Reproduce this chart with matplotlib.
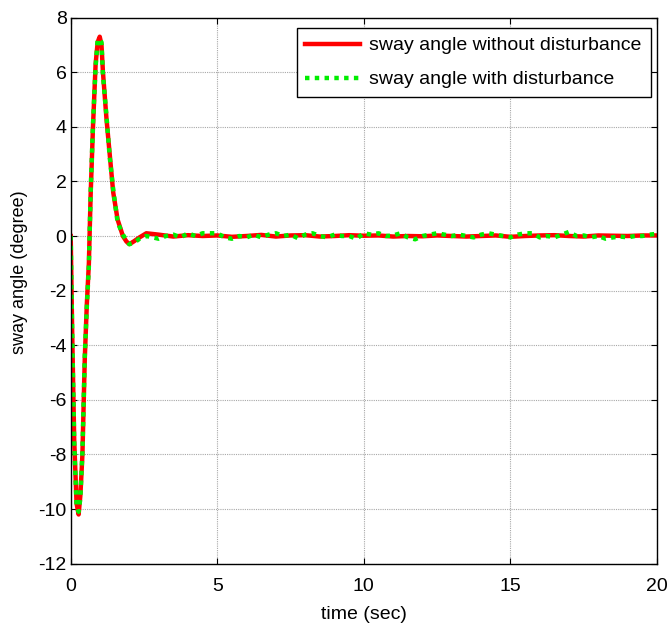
import numpy as np
import matplotlib.pyplot as plt

plt.rcParams['font.family'] = ['Liberation Sans', 'DejaVu Sans']
plt.rcParams['axes.unicode_minus'] = False

# sway angle without disturbance (key points)
t_clean = [0, 0.05, 0.12, 0.2, 0.27, 0.33, 0.4, 0.48, 0.55, 0.62, 0.68, 0.76, 0.85,
           0.92, 0.99, 1.05, 1.1, 1.22, 1.33, 1.45, 1.6, 1.78, 1.9, 2.0, 2.15,
           2.35, 2.58, 3.0, 3.5, 4.0, 4.5, 5.0, 5.5, 6.0, 6.5, 7.0, 7.5, 8.0,
           8.5, 9.0, 9.5, 10.0, 10.5, 11.0, 11.5, 12.0, 12.5, 13.0, 13.5, 14.0,
           14.5, 15.0, 15.5, 16.0, 16.5, 17.0, 17.5, 18.0, 18.5, 19.0, 19.5, 20.0]
y_clean = [0, -3.5, -7.5, -9.8, -10.2, -9.5, -8.0, -4.5, -2.5, -1.0, 1.5, 4.0, 6.3,
           7.1, 7.3, 7.0, 6.0, 4.3, 3.0, 1.6, 0.6, 0.0, -0.2, -0.3, -0.2,
           -0.05, 0.1, 0.05, -0.02, 0.03, 0.0, 0.02, -0.03, 0.0, 0.04, -0.02, 0.02, 0.03,
           -0.02, 0.0, 0.03, 0.01, 0.02, -0.02, 0.0, -0.01, 0.02, 0.0, -0.02, 0.0,
           0.02, -0.03, 0.0, 0.02, 0.03, 0.0, -0.02, 0.02, 0.01, 0.0, 0.02, 0.02]

# sway angle with disturbance
t_dist = [0, 0.05, 0.12, 0.2, 0.27, 0.33, 0.4, 0.48, 0.55, 0.62, 0.68, 0.76, 0.85,
          0.92, 0.99, 1.05, 1.1, 1.22, 1.33, 1.45, 1.6, 1.78, 1.9, 2.0, 2.15,
          2.35, 2.58, 2.8, 3.0, 3.25, 3.5, 3.75, 4.0, 4.25, 4.5, 4.75, 5.0, 5.25,
          5.5, 5.75, 6.0, 6.25, 6.5, 6.75, 7.0, 7.25, 7.5, 7.75, 8.0, 8.25, 8.5,
          8.75, 9.0, 9.25, 9.5, 9.75, 10.0, 10.25, 10.5, 10.75, 11.0, 11.25, 11.5,
          11.75, 12.0, 12.25, 12.5, 12.75, 13.0, 13.25, 13.5, 13.75, 14.0, 14.25,
          14.5, 14.75, 15.0, 15.25, 15.5, 15.75, 16.0, 16.25, 16.5, 16.75, 17.0,
          17.25, 17.5, 17.75, 18.0, 18.25, 18.5, 18.75, 19.0, 19.25, 19.5, 19.75, 20.0]
y_dist = [0, -3.6, -7.6, -9.9, -10.1, -9.6, -7.9, -4.4, -2.6, -1.1, 1.6, 4.1, 6.2,
          7.2, 7.2, 7.1, 5.9, 4.4, 2.9, 1.7, 0.5, 0.05, -0.15, -0.3, -0.25,
          -0.1, 0.0, -0.05, -0.1, 0.0, 0.05, -0.05, 0.1, 0.0, 0.1, 0.1, 0.1, -0.05,
          -0.1, 0.0, -0.05, 0.05, -0.05, 0.05, 0.1, 0.0, 0.05, -0.08, 0.05, 0.1,
          0.0, -0.05, 0.05, 0.0, 0.0, -0.1, 0.1, 0.05, 0.1, 0.0, 0.02, 0.1, -0.05,
          -0.12, 0.0, 0.05, 0.1, 0.05, 0.0, 0.05, 0.0, -0.05, 0.05, 0.1, 0.05, 0.0,
          -0.05, 0.05, 0.1, 0.1, -0.05, 0.0, -0.05, 0.05, 0.15, 0.0, 0.02, -0.05,
          0.0, -0.1, -0.05, -0.02, -0.05, 0.0, 0.0, 0.05, 0.08]

xticks = [0, 5, 10, 15, 20]
yticks = [-12, -10, -8, -6, -4, -2, 0, 2, 4, 6, 8]

fig = plt.figure(figsize=(6.67, 6.28), dpi=100)
ax = fig.add_axes([0.106, 0.1025, 0.879, 0.8695])

ax.plot(t_clean, y_clean, color='#ff0000', lw=3.2, solid_joinstyle='round',
        label='sway angle without disturbance')
ax.plot(t_dist, y_dist, color='#00ee00', lw=3.2, linestyle=(0, (1, 1.2)),
        dash_capstyle='butt', label='sway angle with disturbance')

ax.set_xlim(0, 20)
ax.set_ylim(-12, 8)
ax.set_xticks(xticks)
ax.set_yticks(yticks)
ax.grid(True, color='#a8a8a8', linestyle=(0, (1, 1)), linewidth=0.8)
ax.tick_params(direction='in', top=True, right=True, labelsize=14, length=4)
ax.tick_params(axis='x', pad=10)
ax.tick_params(axis='y', pad=3)
for s in ax.spines.values():
    s.set_linewidth(1.0)

ax.set_xlabel('time (sec)', fontsize=14, labelpad=8)
ax.set_ylabel('sway angle (degree)', fontsize=13, va='center', ha='center')
ax.yaxis.set_label_coords(-0.087, 0.534)

leg = ax.legend(loc='upper right', fontsize=14, fancybox=False, framealpha=1,
                edgecolor='black', handlelength=2.8, handletextpad=0.5,
                borderpad=0.45, labelspacing=0.85, borderaxespad=0,
                bbox_to_anchor=(0.989, 0.981))
leg.get_frame().set_linewidth(1.0)

fig.savefig('out.png', dpi=100)
